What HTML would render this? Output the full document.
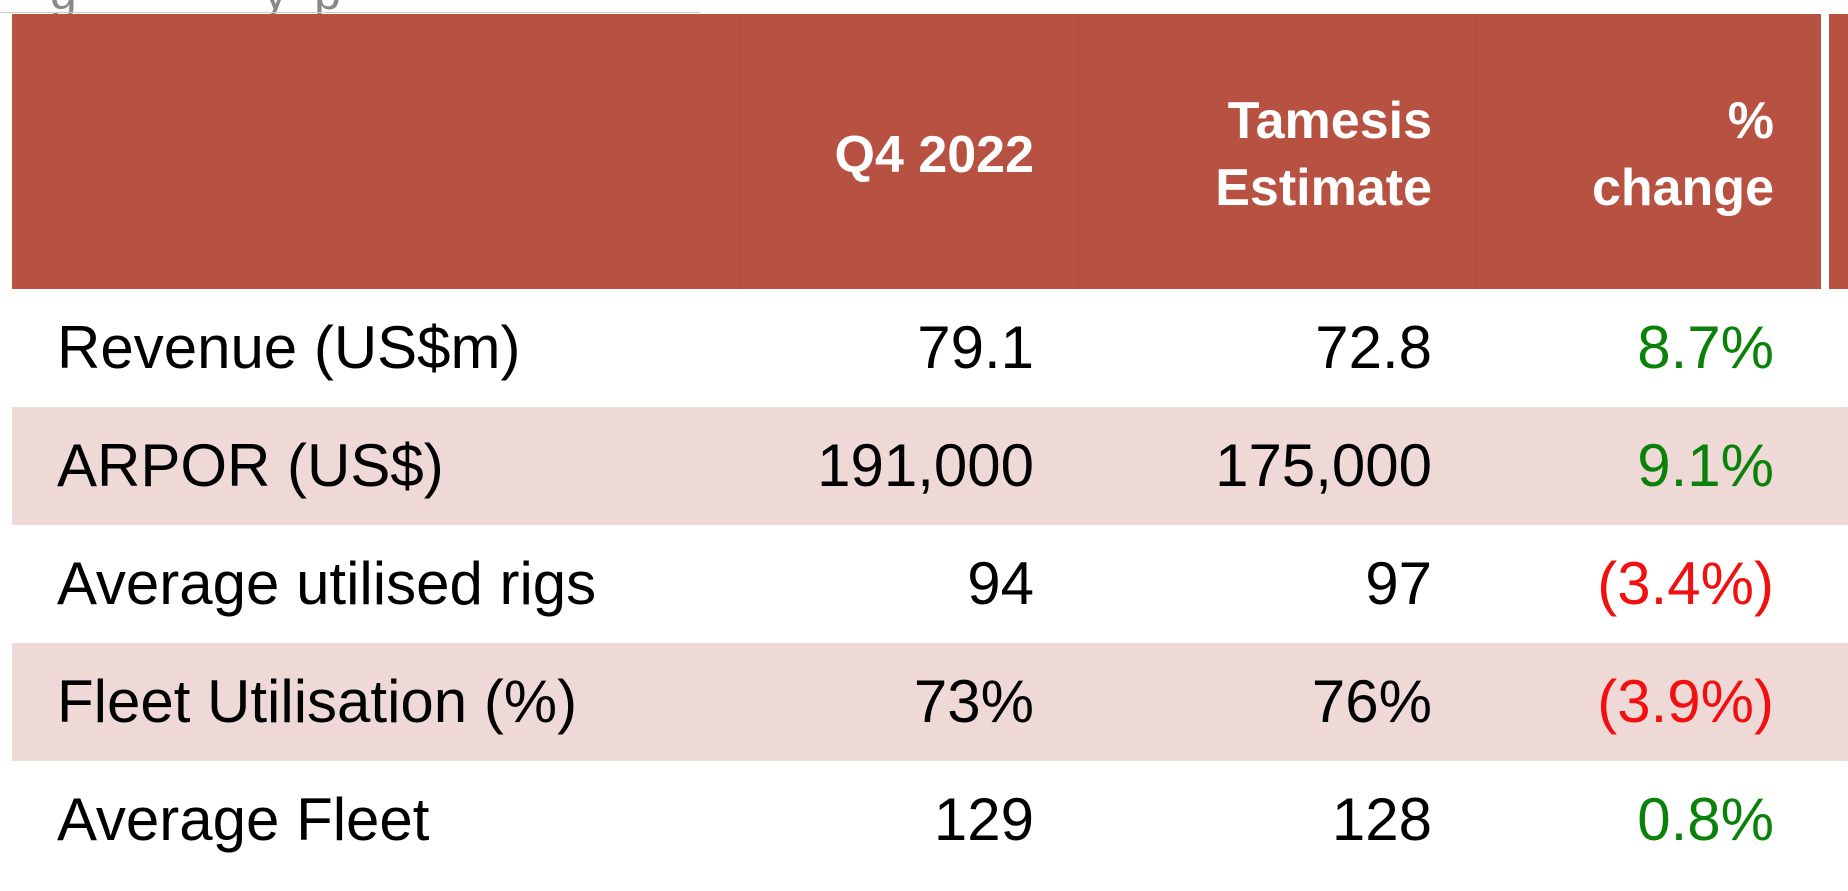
<!DOCTYPE html>
<html><head><meta charset="utf-8"><style>
body{margin:0;width:1848px;height:891px;background:#fff;overflow:hidden;position:relative;font-family:"Liberation Sans","DejaVu Sans",sans-serif}
.abs{position:absolute}
.hdr{left:12px;top:14px;width:1836px;height:275px;background:#B75142}
.vl{top:14px;width:1px;height:275px;background:#AA4A3D}
.row{left:12px;width:1836px;height:118px}
.pink{background:#EFD9D6}
.c{position:absolute;top:0;height:118px;line-height:118px;font-size:60px;color:#000;white-space:nowrap}
.lab{left:45px}
.n{text-align:right}
.h{position:absolute;color:#fff;font-weight:bold;font-size:52px;text-align:right;line-height:67px;white-space:nowrap}
.g{color:#0A820A}.r{color:#F01010}
</style></head><body>
<div class="abs" style="left:50px;top:-34px;font-size:48px;color:#888">g&nbsp;&nbsp;&nbsp;&nbsp;&nbsp;&nbsp;&nbsp;&nbsp;&nbsp;&nbsp;&nbsp;&nbsp;&nbsp;&nbsp;y&nbsp;&nbsp;p</div>
<div class="abs" style="left:0;top:12px;width:700px;height:1px;background:#ccc"></div>
<div class="abs hdr"></div>
<div class="abs vl" style="left:740px"></div>
<div class="abs vl" style="left:1078px"></div>
<div class="abs vl" style="left:1476px"></div>
<div class="abs" style="left:1821px;top:14px;width:8px;height:275px;background:#fff"></div>
<div class="h" style="right:814px;top:122px">Q4 2022</div>
<div class="h" style="right:416px;top:88px">Tamesis<br>Estimate</div>
<div class="h" style="right:74px;top:88px">%<br>change</div>

<div class="abs row" style="top:289px">
<div class="c lab">Revenue (US$m)</div>
<div class="c n" style="right:814px">79.1</div>
<div class="c n" style="right:416px">72.8</div>
<div class="c n g" style="right:74px">8.7%</div></div>
<div class="abs row pink" style="top:407px">
<div class="c lab">ARPOR (US$)</div>
<div class="c n" style="right:814px">191,000</div>
<div class="c n" style="right:416px">175,000</div>
<div class="c n g" style="right:74px">9.1%</div></div>
<div class="abs row" style="top:525px">
<div class="c lab">Average utilised rigs</div>
<div class="c n" style="right:814px">94</div>
<div class="c n" style="right:416px">97</div>
<div class="c n r" style="right:74px">(3.4%)</div></div>
<div class="abs row pink" style="top:643px">
<div class="c lab">Fleet Utilisation (%)</div>
<div class="c n" style="right:814px">73%</div>
<div class="c n" style="right:416px">76%</div>
<div class="c n r" style="right:74px">(3.9%)</div></div>
<div class="abs row" style="top:761px">
<div class="c lab">Average Fleet</div>
<div class="c n" style="right:814px">129</div>
<div class="c n" style="right:416px">128</div>
<div class="c n g" style="right:74px">0.8%</div></div>
</body></html>
